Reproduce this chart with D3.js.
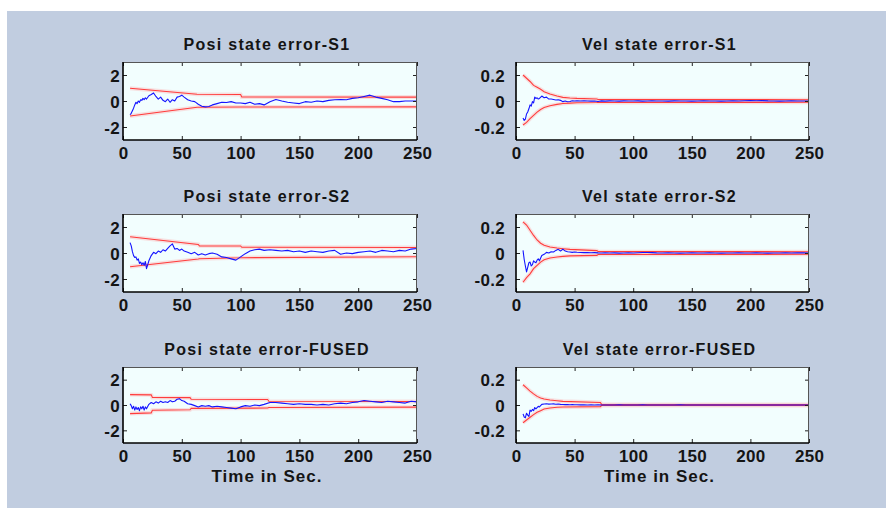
<!DOCTYPE html>
<html>
<head>
<meta charset="utf-8">
<script src="https://cdn.jsdelivr.net/npm/d3@7"></script>
<style>
  html, body { margin: 0; padding: 0; background: #ffffff; }
  svg { display: block; }
  text { font-family: "Liberation Sans", Arial, Helvetica, sans-serif; font-weight: bold; fill: #141414; }
</style>
</head>
<body>
<svg id="fig" width="886" height="508"></svg>
<script>
// ---- sample times (s) shared by all estimation-error traces ----
const timeSec = [6,7,8,9,10,11,12,13,14,15,16,17,18,19,20,
  22,24,26,28,30,32,34,36,38,40,42,44,46,48,50,52,
  55,58,61,64,67,70,73,76,
  80,84,88,92,96,100,104,108,112,116,120,
  125,130,135,140,145,150,155,160,165,170,175,180,185,190,195,200,205,210,215,220,225,230,235,240,245,250];

// ---- position estimation errors ----
const posErrS1 = [-1.05,-0.95,-0.75,-0.55,-0.3,-0.1,-0.2,0.0,-0.1,0.1,0.05,0.2,0.1,0.25,0.15,
  0.4,0.5,0.62,0.35,0.15,0.3,0.05,-0.05,0.15,-0.1,0.1,0.0,0.3,0.35,0.45,0.3,
  0.1,0.0,-0.05,-0.25,-0.4,-0.45,-0.42,-0.3,
  -0.2,-0.1,-0.12,-0.05,-0.15,-0.15,-0.2,-0.1,-0.25,-0.2,-0.3,
  -0.05,0.12,0.0,-0.1,-0.15,-0.2,-0.05,-0.1,0.0,-0.05,0.05,0.1,0.12,0.1,0.2,0.25,0.35,0.45,0.3,0.2,0.1,-0.05,-0.05,0.0,0.0,0.0];

const posErrS2 = [0.8,0.55,0.1,-0.2,-0.35,-0.3,-0.55,-0.45,-0.8,-0.7,-0.9,-0.75,-0.95,-0.65,-1.2,
  -0.6,-0.2,0.05,-0.05,0.15,0.05,0.25,0.15,0.35,0.55,0.7,0.3,0.35,0.2,0.3,0.15,
  0.05,-0.05,0.05,-0.15,-0.05,-0.15,-0.05,0.0,
  -0.1,-0.3,-0.35,-0.45,-0.55,-0.3,-0.05,0.15,0.25,0.3,0.2,
  0.25,0.2,0.15,0.2,0.1,0.15,0.05,0.15,0.1,0.05,0.15,0.2,-0.1,0.0,-0.05,0.05,0.1,0.15,0.05,0.2,0.15,0.1,0.2,0.15,0.3,0.35];

const posErrFused = [0.1,-0.05,-0.3,-0.1,-0.4,-0.15,-0.35,-0.2,-0.45,-0.15,-0.3,-0.1,-0.4,-0.15,-0.3,
  0.05,0.2,0.1,0.25,0.15,0.3,0.2,0.25,0.2,0.35,0.25,0.3,0.45,0.5,0.35,0.3,
  0.1,0.05,-0.05,-0.15,-0.05,-0.1,-0.05,-0.15,
  -0.1,-0.15,-0.2,-0.25,-0.3,-0.15,-0.05,-0.1,0.0,-0.05,0.05,
  0.2,0.2,0.15,0.1,0.05,0.1,0.05,0.05,0.0,0.05,0.0,0.1,0.15,0.1,0.2,0.25,0.35,0.3,0.25,0.2,0.3,0.25,0.2,0.15,0.3,0.25];

// ---- velocity estimation errors ----
const velErrS1 = [-0.13,-0.15,-0.14,-0.1,-0.085,-0.06,-0.03,-0.04,-0.005,-0.015,0.03,0.02,0.025,0.015,0.02,
  0.038,0.025,0.03,0.015,0.015,0.012,0.008,0.01,0.005,-0.005,0.0,-0.006,-0.004,0.002,0.0,0.002,
  0.0,0.001,0.0,-0.001,0.0,-0.004,0.001,-0.001,
  0.001,0.0,-0.001,0.001,0.0,0.0,0.001,-0.001,0.0,0.001,0.0,
  0.0,-0.001,0.001,0.0,0.0,-0.001,0.0,0.001,0.0,0.0,-0.001,0.0,0.001,0.0,0.002,0.003,0.002,0.003,0.001,0.0,-0.001,0.0,0.001,0.0,0.0,0.0];

const velErrS2 = [0.02,-0.05,-0.1,-0.145,-0.11,-0.075,-0.07,-0.1,-0.09,-0.06,-0.07,-0.075,-0.055,-0.045,-0.06,
  -0.02,-0.01,0.005,0.0,0.01,0.008,0.02,0.028,0.015,0.03,0.015,0.01,0.008,0.005,0.008,0.006,
  0.004,0.003,0.004,0.002,0.003,0.001,0.0,0.001,
  0.0,0.001,-0.001,0.0,0.001,0.0,0.002,0.004,0.004,0.003,0.001,
  0.0,0.001,0.0,-0.001,0.0,0.001,0.0,0.0,0.001,0.0,-0.001,0.0,0.0,0.001,0.0,0.0,0.001,0.0,-0.001,0.0,0.0,0.001,0.0,0.002,0.001,0.0];

const velErrFused = [-0.07,-0.095,-0.1,-0.065,-0.08,-0.09,-0.04,-0.05,-0.035,-0.045,-0.02,-0.03,-0.02,-0.01,-0.015,
  0.005,0.008,0.01,0.007,0.008,0.009,0.006,0.008,0.005,0.004,0.003,0.004,0.002,0.003,0.002,0.002,
  0.001,0.001,0.0,0.001,0.0,0.001,0.0,0.0,
  0.0,0.0,0.001,0.0,0.0,0.0,0.0,0.001,0.0,0.0,0.0,
  0.0,0.0,0.0,0.001,0.0,0.0,0.0,0.0,0.0,0.0,0.0,0.0,0.0,0.0,0.0,0.0,0.0,0.0,0.0,0.0,0.0,0.0,0.0,0.0,0.0,0.0];

// ---- covariance bounds (upper / lower) ----
const posBoundTimeS1 = [6, 63, 100, 101, 250];
const posUpperS1 = [0.98, 0.52, 0.5, 0.31, 0.3];
const posLowerS1 = [-1.15, -0.48, -0.46, -0.46, -0.45];

const posBoundTimeS2 = [6, 64, 65, 100, 101, 250];
const posUpperS2 = [1.25, 0.66, 0.55, 0.54, 0.44, 0.42];
const posLowerS2 = [-1.06, -0.46, -0.44, -0.37, -0.36, -0.29];

const posBoundTimeFused = [6, 24, 25, 57, 58, 123, 124, 250];
const posUpperFused = [0.82, 0.8, 0.6, 0.58, 0.45, 0.43, 0.3, 0.28];
const posLowerFused = [-0.68, -0.62, -0.42, -0.38, -0.27, -0.24, -0.2, -0.17];

const velBoundTimeS1 = [6, 9, 12, 15, 18, 21, 24, 29, 35, 40, 46, 52, 69, 70, 250];
const velUpperS1 = [0.2, 0.175, 0.15, 0.12, 0.105, 0.09, 0.072, 0.054, 0.038, 0.028, 0.023, 0.02, 0.015, 0.012, 0.01];
const velLowerS1 = [-0.185, -0.165, -0.135, -0.11, -0.085, -0.065, -0.05, -0.036, -0.026, -0.019, -0.016, -0.014, -0.012, -0.011, -0.01];

const velBoundTimeS2 = [6, 9, 12, 15, 18, 21, 24, 29, 35, 40, 46, 69, 70, 250];
const velUpperS2 = [0.24, 0.215, 0.175, 0.135, 0.1, 0.075, 0.06, 0.046, 0.038, 0.033, 0.028, 0.018, 0.012, 0.01];
const velLowerS2 = [-0.225, -0.19, -0.16, -0.12, -0.095, -0.07, -0.052, -0.038, -0.031, -0.026, -0.022, -0.018, -0.012, -0.01];

const velBoundTimeFused = [6, 9, 12, 15, 18, 21, 24, 29, 35, 40, 72, 73, 250];
const velUpperFused = [0.16, 0.135, 0.11, 0.088, 0.068, 0.056, 0.047, 0.04, 0.034, 0.029, 0.02, 0.005, 0.004];
const velLowerFused = [-0.14, -0.118, -0.097, -0.076, -0.058, -0.045, -0.032, -0.024, -0.018, -0.016, -0.013, -0.004, -0.004];

// ---- axis ticks and labels ----
const timeTicks = [0, 50, 100, 150, 200, 250];
const posTicks = [-2, 0, 2];
const velTicks = [-0.2, 0, 0.2];
const titles = ["Posi state error-S1", "Vel state error-S1",
                "Posi state error-S2", "Vel state error-S2",
                "Posi state error-FUSED", "Vel state error-FUSED"];
const xLabel = "Time in Sec.";

// ---- figure layout ----
const colX = [[123, 417], [516, 809]];
const rowY = [[62, 140], [214, 292], [367, 443]];
const tickLabelGap = [3, 11];

const panels = [
  { title: titles[0], row: 0, col: 0, dom: [-3, 3], ticks: posTicks, err: posErrS1, bt: posBoundTimeS1, up: posUpperS1, lo: posLowerS1 },
  { title: titles[1], row: 0, col: 1, dom: [-0.3, 0.3], ticks: velTicks, err: velErrS1, bt: velBoundTimeS1, up: velUpperS1, lo: velLowerS1 },
  { title: titles[2], row: 1, col: 0, dom: [-3, 3], ticks: posTicks, err: posErrS2, bt: posBoundTimeS2, up: posUpperS2, lo: posLowerS2 },
  { title: titles[3], row: 1, col: 1, dom: [-0.3, 0.3], ticks: velTicks, err: velErrS2, bt: velBoundTimeS2, up: velUpperS2, lo: velLowerS2 },
  { title: titles[4], row: 2, col: 0, dom: [-3, 3], ticks: posTicks, err: posErrFused, bt: posBoundTimeFused, up: posUpperFused, lo: posLowerFused },
  { title: titles[5], row: 2, col: 1, dom: [-0.3, 0.3], ticks: velTicks, err: velErrFused, bt: velBoundTimeFused, up: velUpperFused, lo: velLowerFused }
];

const svg = d3.select("#fig");

// figure background
svg.append("rect").attr("x", 7).attr("y", 11).attr("width", 879).attr("height", 497)
  .attr("fill", "#c1cde0");

const defs = svg.append("defs");

panels.forEach((p, i) => {
  const [x0, x1] = colX[p.col];
  const [y0, y1] = rowY[p.row];
  const x = d3.scaleLinear().domain([0, 250]).range([x0, x1]);
  const y = d3.scaleLinear().domain(p.dom).range([y1, y0]);
  const g = svg.append("g");

  // plot area
  g.append("rect").attr("x", x0).attr("y", y0).attr("width", x1 - x0).attr("height", y1 - y0)
    .attr("fill", "#f2fefe");

  defs.append("clipPath").attr("id", "clip" + i)
    .append("rect").attr("x", x0).attr("y", y0).attr("width", x1 - x0).attr("height", y1 - y0);

  const plot = g.append("g").attr("clip-path", `url(#clip${i})`);

  const boundLine = d3.line().x(d => x(d[0])).y(d => y(d[1]));
  const upper = p.bt.map((t, k) => [t, p.up[k]]);
  const lower = p.bt.map((t, k) => [t, p.lo[k]]);

  // soft halo under the bound lines, then the bounds themselves
  [upper, lower].forEach(b => {
    plot.append("path").attr("d", boundLine(b)).attr("fill", "none")
      .attr("stroke", "#ff9a9a").attr("stroke-opacity", 0.3).attr("stroke-width", 4);
  });
  [upper, lower].forEach(b => {
    plot.append("path").attr("d", boundLine(b)).attr("fill", "none")
      .attr("stroke", "#ff3c3c").attr("stroke-width", 1.1);
  });

  // estimation error
  const errLine = d3.line().x((d, k) => x(timeSec[k])).y(d => y(d));
  plot.append("path").attr("d", errLine(p.err)).attr("fill", "none")
    .attr("stroke", "#1414ff").attr("stroke-width", 1.1).attr("stroke-linejoin", "round");

  // inward ticks on all four sides
  const tickLen = 4;
  const bottom = g.append("g").attr("transform", `translate(0,${y1})`)
    .call(d3.axisBottom(x).tickValues(timeTicks).tickSizeInner(-tickLen).tickSizeOuter(0).tickPadding(0).tickFormat(d3.format("d")));
  const top = g.append("g").attr("transform", `translate(0,${y0})`)
    .call(d3.axisTop(x).tickValues(timeTicks).tickSizeInner(-tickLen).tickSizeOuter(0).tickFormat(""));
  const left = g.append("g").attr("transform", `translate(${x0},0)`)
    .call(d3.axisLeft(y).tickValues(p.ticks).tickSizeInner(-tickLen).tickSizeOuter(0).tickPadding(0)
      .tickFormat(d => d === 0 ? "0" : String(d)));
  const right = g.append("g").attr("transform", `translate(${x1},0)`)
    .call(d3.axisRight(y).tickValues(p.ticks).tickSizeInner(-tickLen).tickSizeOuter(0).tickFormat(""));

  [bottom, top, left, right].forEach(a => {
    a.select(".domain").remove();
    a.selectAll(".tick line").attr("stroke", "#222").attr("stroke-width", 1);
    a.attr("font-family", null).attr("font-size", null);
  });

  bottom.selectAll(".tick text")
    .attr("y", 18.5).attr("dy", null)
    .attr("font-size", "17px").attr("letter-spacing", "0.3px").attr("fill", "#141414");
  left.selectAll(".tick text")
    .attr("x", -tickLabelGap[p.col]).attr("dy", "0.36em")
    .attr("font-size", "17px").attr("letter-spacing", "0.3px").attr("fill", "#141414");

  // axes box
  g.append("line").attr("x1", x0).attr("x2", x1).attr("y1", y0 + 0.5).attr("y2", y0 + 0.5).attr("stroke", "#555").attr("stroke-width", 1);
  g.append("line").attr("x1", x1 - 0.5).attr("x2", x1 - 0.5).attr("y1", y0).attr("y2", y1).attr("stroke", "#555").attr("stroke-width", 1);
  g.append("line").attr("x1", x0).attr("x2", x1).attr("y1", y1).attr("y2", y1).attr("stroke", "#000").attr("stroke-width", 1.6);
  g.append("line").attr("x1", x0).attr("x2", x0).attr("y1", y0).attr("y2", y1).attr("stroke", "#000").attr("stroke-width", 1.6);

  // title
  g.append("text").attr("x", (x0 + x1) / 2 - 3).attr("y", y0 - 12.5)
    .attr("text-anchor", "middle").attr("font-size", "16px").attr("letter-spacing", "1.3px")
    .text(p.title);

  // x label on the bottom row
  if (p.row === 2) {
    g.append("text").attr("x", (x0 + x1) / 2 - 3).attr("y", y1 + 39)
      .attr("text-anchor", "middle").attr("font-size", "17px").attr("letter-spacing", "1px")
      .text(xLabel);
  }
});
</script>
</body>
</html>
